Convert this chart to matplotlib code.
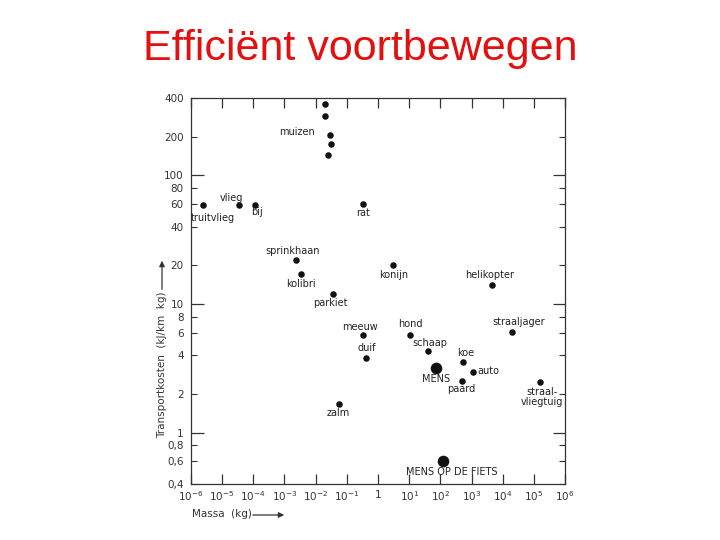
import numpy as np
import matplotlib
matplotlib.use("Agg")
import matplotlib.pyplot as plt
from matplotlib.ticker import FixedLocator, FixedFormatter

# Data: mass in kg, transport cost in kJ/(km kg)
names = ['muizen', 'muizen', 'muizen', 'muizen', 'muizen',
         'truitvlieg', 'vlieg', 'bij', 'rat',
         'sprinkhaan', 'kolibri', 'parkiet', 'meeuw', 'duif', 'zalm',
         'konijn', 'helikopter', 'straaljager', 'hond', 'schaap', 'koe',
         'auto', 'MENS', 'paard', 'straal-\nvliegtuig', 'MENS OP DE FIETS']
log_mass = [-1.70, -1.70, -1.53, -1.51, -1.60,
            -5.62, -4.45, -3.95, -0.47,
            -2.64, -2.48, -1.44, -0.47, -0.39, -1.26,
            0.49, 3.65, 4.29, 1.04, 1.59, 2.74,
            3.04, 1.87, 2.68, 5.19, 2.08]
cost = [359, 289, 206, 176, 143,
        58.5, 58.6, 58.5, 59.6,
        21.9, 17.2, 11.9, 5.8, 3.8, 1.66,
        20.0, 14.1, 6.1, 5.8, 4.3, 3.55,
        2.98, 3.17, 2.54, 2.49, 0.60]
big = ['MENS', 'MENS OP DE FIETS']

# label offsets (pixels) relative to the point (or group centre)
offsets = {
    'muizen': (-31, -1), 'truitvlieg': (10, -13), 'vlieg': (-8, 7), 'bij': (2, -7),
    'rat': (0, -9), 'sprinkhaan': (-3, 9), 'kolibri': (0, -10), 'parkiet': (-3, -9),
    'meeuw': (-3, 8), 'duif': (1, 10), 'zalm': (0, -9), 'konijn': (0, -10),
    'helikopter': (-2, 10), 'straaljager': (7, 10), 'hond': (0, 11), 'schaap': (2, 8),
    'koe': (2, 9), 'auto': (16, 1), 'MENS': (0, -11), 'paard': (0, -8),
    'straal-\nvliegtuig': (2, -15), 'MENS OP DE FIETS': (9, -11),
}

y_major = [1, 10, 100]
y_minor = [0.4, 0.6, 0.8, 2, 4, 6, 8, 20, 40, 60, 80, 200, 400]
y_minor_labels = ['0,4', '0,6', '0,8', '2', '4', '6', '8', '20', '40', '60', '80', '200', '400']
x_decades = list(range(-6, 7))

mass = 10.0 ** np.array(log_mass)
cost = np.array(cost)

fig = plt.figure(figsize=(7.2, 5.4), dpi=100)
fig.text(0.5, 1 - 60 / 540, 'Efficiënt voortbewegen', ha='center', va='baseline',
         fontsize=31, color='#e31010', family='Liberation Sans')

ax = fig.add_axes([0.265, 0.1037, 0.52, 0.7148])
ax.set_xscale('log')
ax.set_yscale('log')
ax.set_xlim(1e-6, 1e6)
ax.set_ylim(0.4, 400)

is_big = np.array([n in big for n in names])
ax.scatter(mass[~is_big], cost[~is_big], s=22, color='#111111', zorder=3, linewidths=0)
ax.scatter(mass[is_big], cost[is_big], s=70, color='#111111', zorder=3, linewidths=0)

done = set()
for n in names:
    if n in done:
        continue
    done.add(n)
    idx = [i for i, m in enumerate(names) if m == n]
    xm = 10 ** np.mean(np.log10(mass[idx]))
    ym = 10 ** np.mean(np.log10(cost[idx]))
    dx, dy = offsets[n]
    ax.annotate(n, (xm, ym), xytext=(dx, dy), textcoords='offset pixels',
                ha='center', va='center', fontsize=7, color='#222222',
                linespacing=0.95)

# ticks
ax.xaxis.set_major_locator(FixedLocator([10.0 ** d for d in x_decades]))
ax.xaxis.set_minor_locator(FixedLocator([]))
xlabels = [('1' if d == 0 else r'$10^{%d}$' % d) for d in x_decades]
ax.xaxis.set_major_formatter(FixedFormatter(xlabels))
ax.yaxis.set_major_locator(FixedLocator(y_major))
ax.yaxis.set_major_formatter(FixedFormatter(['1', '10', '100']))
ax.yaxis.set_minor_locator(FixedLocator(y_minor))
ax.yaxis.set_minor_formatter(FixedFormatter(y_minor_labels))

ax.tick_params(which='both', direction='in', top=True, right=True, colors='#333333',
               labelsize=7.5, labelcolor='#333333')
ax.tick_params(axis='x', which='major', length=7, width=0.9, pad=4)
ax.tick_params(axis='y', which='major', length=9, width=0.9, pad=5)
ax.tick_params(axis='y', which='minor', length=4, width=0.8, pad=5)
for sp in ax.spines.values():
    sp.set_color('#333333')
    sp.set_linewidth(0.9)

# axis labels with arrows, like the original scan
fig.text(162 / 720, 1 - 365 / 540, 'Transportkosten  (kJ/km  kg)', rotation=90,
         ha='center', va='center', fontsize=7.5, color='#333333')
ax.annotate('', xy=(162 / 720, 1 - 258 / 540), xytext=(162 / 720, 1 - 292 / 540),
            xycoords='figure fraction',
            arrowprops=dict(arrowstyle='-|>', color='#333333', lw=0.9, mutation_scale=8))
fig.text(192 / 720, 1 - 514 / 540, 'Massa  (kg)', ha='left', va='center',
         fontsize=7.5, color='#333333')
ax.annotate('', xy=(287 / 720, 1 - 515 / 540), xytext=(250 / 720, 1 - 515 / 540),
            xycoords='figure fraction',
            arrowprops=dict(arrowstyle='-|>', color='#333333', lw=0.9, mutation_scale=8))

fig.savefig('out.png', dpi=100)
